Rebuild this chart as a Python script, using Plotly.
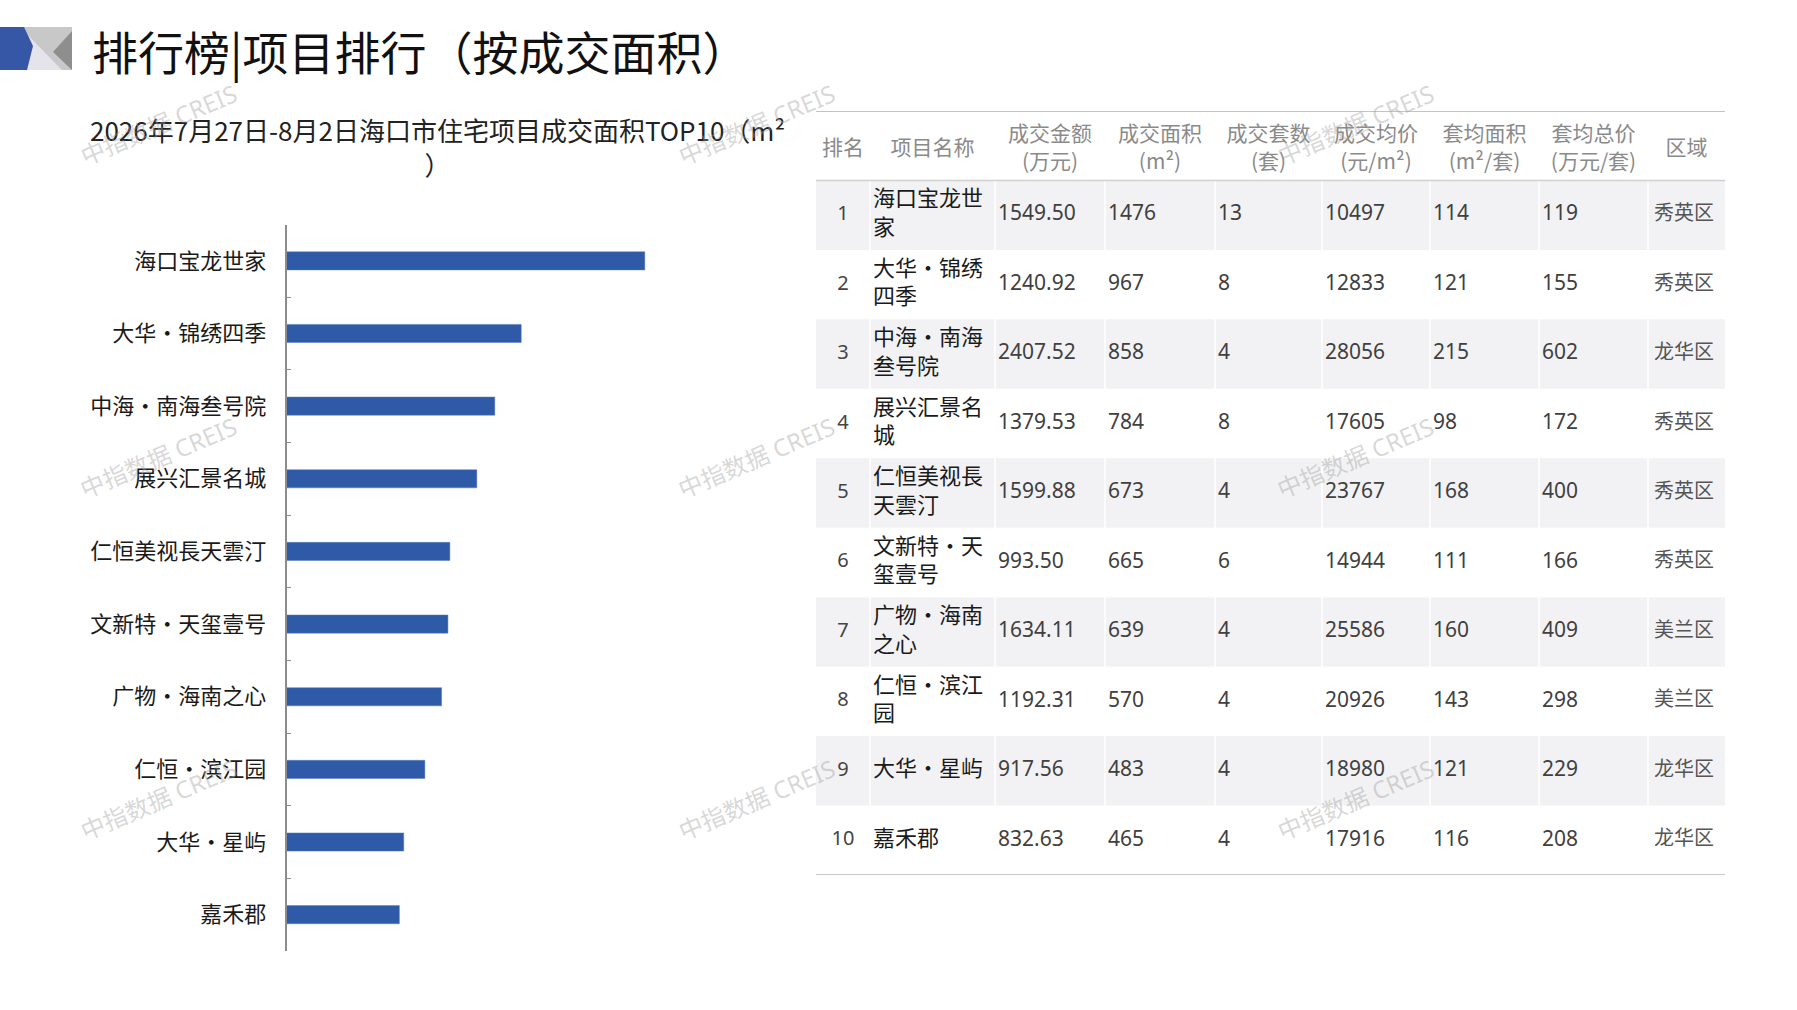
import plotly.graph_objects as go

W, H = 1797, 1010

# ---- data ----
PROJECTS = ["海口宝龙世家", "大华•锦绣四季", "中海•南海叁号院", "展兴汇景名城", "仁恒美视長天雲汀",
            "文新特•天玺壹号", "广物•海南之心", "仁恒•滨江园", "大华•星屿", "嘉禾郡"]
AREA = [1476, 967, 858, 784, 673, 665, 639, 570, 483, 465]
AMOUNT = [1549.50, 1240.92, 2407.52, 1379.53, 1599.88, 993.50, 1634.11, 1192.31, 917.56, 832.63]
UNITS = [13, 8, 4, 8, 4, 6, 4, 4, 4, 4]
AVG_PRICE = [10497, 12833, 28056, 17605, 23767, 14944, 25586, 20926, 18980, 17916]
AVG_AREA = [114, 121, 215, 98, 168, 111, 160, 143, 121, 116]
AVG_TOTAL = [119, 155, 602, 172, 400, 166, 409, 298, 229, 208]
DISTRICT = ["秀英区", "秀英区", "龙华区", "秀英区", "秀英区", "秀英区", "美兰区", "美兰区", "龙华区", "龙华区"]
HEADERS = ["排名", "项目名称", "成交金额<br>(万元)", "成交面积<br>(m²)", "成交套数<br>(套)",
           "成交均价<br>(元/m²)", "套均面积<br>(m²/套)", "套均总价<br>(万元/套)", "区域"]

TITLE = "排行榜|项目排行（按成交面积）"
SUBTITLE = "2026年7月27日-8月2日海口市住宅项目成交面积TOP10（m²<br>）"
WATERMARK = "中指数据 CREIS"

# table column left edges (px from table left) and total width
COL_LEFT = [0, 54, 179, 289, 399, 506, 614, 723, 832]
TABLE_W = 909

BAR = "#2E5AA7"
AXIS = "#8C8C8C"
SHADE = "#F2F2F4"
CJK = "Noto Sans CJK SC"
NUM = "Noto Sans, Noto Sans CJK SC"


def px_x(v):
    return v / W


def px_y(v):
    return 1 - v / H


def wrap(name, n=5):
    return "<br>".join(name[i:i + n] for i in range(0, len(name), n))


fig = go.Figure()

# ---- left: bar chart ----
fig.add_trace(go.Bar(
    x=AREA, y=PROJECTS, orientation="h",
    marker=dict(color=BAR, line=dict(color="#5B7FC0", width=0.5)),
    hoverinfo="skip", showlegend=False,
))

# ---- right: table ----
rows = len(PROJECTS)
ranks = list(range(1, rows + 1))
shaded = [r for r in ranks if r % 2 == 1]
fig.add_trace(go.Bar(
    x=[TABLE_W] * len(shaded), y=shaded, base=0, width=1, orientation="h",
    marker=dict(color=SHADE, line=dict(width=0)),
    xaxis="x2", yaxis="y2", hoverinfo="skip", showlegend=False,
))

col_centers = [(COL_LEFT[i] + (COL_LEFT[i + 1] if i + 1 < len(COL_LEFT) else TABLE_W)) / 2
               for i in range(len(COL_LEFT))]
fig.add_trace(go.Scatter(
    x=col_centers, y=[0.06] * len(HEADERS), text=HEADERS, mode="text",
    textposition="middle center",
    textfont=dict(family=CJK, size=21, color="#8A8A8A"),
    xaxis="x2", yaxis="y2", hoverinfo="skip", showlegend=False,
))

columns = [
    ([str(r) for r in ranks], "center", 0, dict(family=NUM, size=20, color="#444")),
    ([wrap(p) for p in PROJECTS], "right", 3, dict(family=CJK, size=22, color="#1a1a1a")),
    ([f"{v:.2f}" for v in AMOUNT], "right", 3, dict(family=NUM, size=21, color="#404040")),
    ([str(v) for v in AREA], "right", 3, dict(family=NUM, size=21, color="#404040")),
    ([str(v) for v in UNITS], "right", 3, dict(family=NUM, size=21, color="#404040")),
    ([str(v) for v in AVG_PRICE], "right", 3, dict(family=NUM, size=21, color="#404040")),
    ([str(v) for v in AVG_AREA], "right", 3, dict(family=NUM, size=21, color="#404040")),
    ([str(v) for v in AVG_TOTAL], "right", 3, dict(family=NUM, size=21, color="#404040")),
    (DISTRICT, "right", 6, dict(family=CJK, size=20, color="#555")),
]
for i, (vals, pos, pad, font) in enumerate(columns):
    x = col_centers[i] if pos == "center" else COL_LEFT[i] + pad
    fig.add_trace(go.Scatter(
        x=[x] * rows, y=ranks, text=vals, mode="text",
        textposition="middle " + pos, textfont=font,
        xaxis="x2", yaxis="y2", hoverinfo="skip", showlegend=False,
    ))

fig.update_layout(
    width=W, height=H,
    margin=dict(l=0, r=0, t=0, b=0),
    paper_bgcolor="white", plot_bgcolor="rgba(0,0,0,0)",
    bargap=0.75,
    font=dict(family=CJK, color="#222"),
    xaxis=dict(domain=[px_x(286.5), px_x(772)], range=[0, 2000], visible=False),
    yaxis=dict(
        domain=[px_y(951), px_y(224.5)], autorange="reversed",
        showline=True, linecolor=AXIS, linewidth=1.5,
        ticks="inside", tickson="boundaries", ticklen=5, tickcolor=AXIS,
        tickfont=dict(family=CJK, size=22, color="#1a1a1a"),
        ticklabelstandoff=14, showgrid=False,
    ),
    xaxis2=dict(domain=[px_x(816), px_x(816 + TABLE_W)], range=[0, TABLE_W],
                visible=False, anchor="y2"),
    yaxis2=dict(domain=[px_y(875), px_y(111)], range=[10.5, -0.5],
                visible=False, anchor="x2"),
)

# faint white column separators inside the shaded rows
for xl in COL_LEFT[1:]:
    fig.add_shape(type="line", xref="x2", yref="y2", x0=xl, x1=xl, y0=0.5, y1=10.5,
                  line=dict(color="white", width=1.5))

# table rules
for y, w, c in [(-0.5, 2, "#C4C4C4"), (0.5, 1.5, "#D0D0D0"), (10.5, 2, "#C8C8C8")]:
    fig.add_shape(type="line", xref="x2", yref="y2", x0=0, x1=TABLE_W, y0=y, y1=y,
                  line=dict(color=c, width=w))

# header logo
logo = [
    ([(0, 27), (72, 27), (72, 70), (0, 70)], "#C8C8C8"),
    ([(20, 27), (62, 70), (0, 70)], "#E4E4EA"),
    ([(72, 31), (53, 52), (72, 70)], "#8E8E8E"),
    ([(0, 27), (24, 27), (33, 46), (27, 70), (0, 70)], "#3656A6"),
]
for pts, color in logo:
    path = "M " + " L ".join(f"{px_x(x):.5f} {px_y(y):.5f}" for x, y in pts) + " Z"
    fig.add_shape(type="path", path=path, xref="paper", yref="paper",
                  fillcolor=color, line=dict(width=0), layer="above")

fig.add_annotation(
    text=TITLE, xref="paper", yref="paper", x=px_x(90), y=px_y(50),
    xanchor="left", yanchor="middle", showarrow=False,
    font=dict(family=CJK, size=46, color="#111"),
)
fig.add_annotation(
    text=SUBTITLE, xref="paper", yref="paper", x=px_x(437), y=px_y(146),
    xanchor="center", yanchor="middle", showarrow=False,
    font=dict(family=CJK, size=26, color="#222"),
)

for wy in (124, 458, 799):
    for wx in (158, 756, 1355):
        fig.add_annotation(
            text=WATERMARK, xref="paper", yref="paper", x=px_x(wx), y=px_y(wy),
            xanchor="center", yanchor="middle", showarrow=False, textangle=-23,
            font=dict(family="Noto Sans, " + CJK, size=24, color="rgba(160,160,160,0.42)"),
        )

# drop the browser's default body margin so the figure sits at the page corner
fig.write_html(
    "out.html",
    config={"displayModeBar": False},
    post_script="document.body.style.margin='0px';",
)
